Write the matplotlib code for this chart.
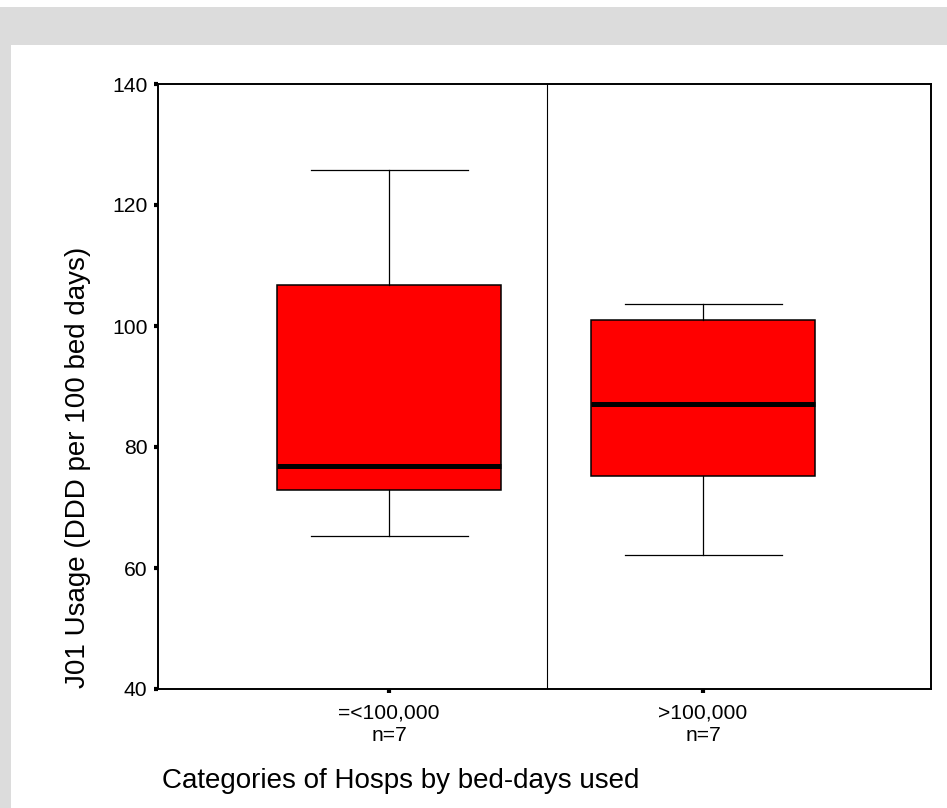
import matplotlib.pyplot as plt
from matplotlib.patches import Rectangle

plt.rcParams['font.family'] = ['Liberation Sans', 'DejaVu Sans']

# values
groups = ['=<100,000', '>100,000']
n_counts = [7, 7]
whisker_low = [65.3, 62.1]
q1 = [72.9, 75.2]
median = [76.9, 87.1]
q3 = [106.7, 101.0]
whisker_high = [125.8, 103.6]
y_ticks = [40, 60, 80, 100, 120, 140]

fig = plt.figure(figsize=(9.47, 8.08), dpi=100)
grey = '#dcdcdc'
fig.patches.append(Rectangle((0, 1 - 45 / 808), 1, 38 / 808, transform=fig.transFigure,
                             facecolor=grey, edgecolor='none', zorder=0))
fig.patches.append(Rectangle((0, 0), 11 / 947, 1 - 7 / 808, transform=fig.transFigure,
                             facecolor=grey, edgecolor='none', zorder=0))

ax = fig.add_axes([158 / 947, 1 - 689 / 808, 773 / 947, 605 / 808])

stats = []
for i in range(len(groups)):
    stats.append(dict(whislo=whisker_low[i], q1=q1[i], med=median[i], q3=q3[i],
                      whishi=whisker_high[i], fliers=[]))

positions = [1, 2]
ax.bxp(stats, positions=positions, widths=0.713, capwidths=0.5, patch_artist=True,
       showfliers=False,
       boxprops=dict(facecolor='#ff0000', edgecolor='black', linewidth=1.1),
       medianprops=dict(color='black', linewidth=3.6, solid_capstyle='butt'),
       whiskerprops=dict(color='black', linewidth=0.9),
       capprops=dict(color='black', linewidth=0.9))

ax.axvline(1.503, color='black', linewidth=0.8)

ax.set_xlim(0.264, 2.726)
ax.set_ylim(40, 140)
ax.set_yticks(y_ticks)
ax.set_xticks(positions)
ax.set_xticklabels([f'{g}\nn={n}' for g, n in zip(groups, n_counts)], fontsize=15.2)
ax.tick_params(axis='y', labelsize=15.2, pad=4.5)
ax.tick_params(axis='x', pad=7.5)
ax.tick_params(direction='out', length=3, width=3, color='black')

for s in ax.spines.values():
    s.set_linewidth(1.4)
    s.set_color('black')

fig.text(78 / 947, 1 - 688 / 808, 'J01 Usage (DDD per 100 bed days)', rotation=90,
         ha='center', va='bottom', fontsize=20)
fig.text(162 / 947, 1 - 788 / 808, 'Categories of Hosps by bed-days used',
         ha='left', va='baseline', fontsize=20)

fig.savefig('out.png', dpi=100, facecolor='white')
